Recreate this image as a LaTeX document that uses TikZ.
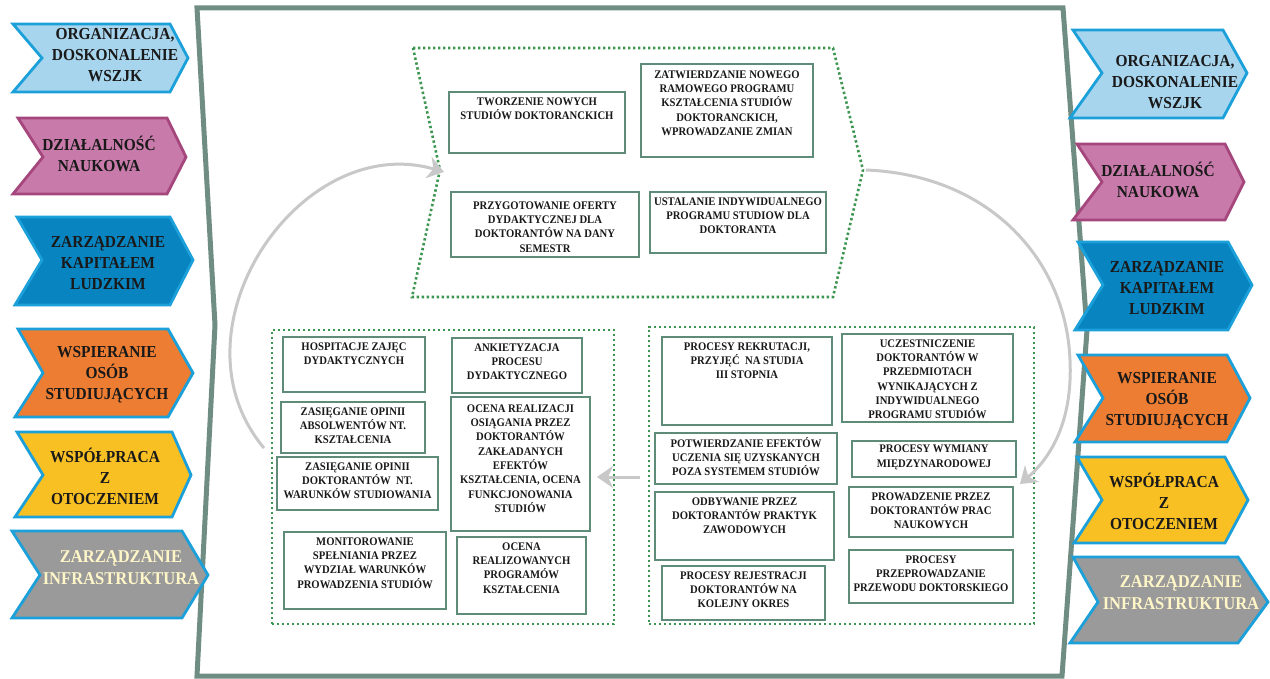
\documentclass[tikz,border=0pt]{standalone}
\usepackage{fontspec}
\setmainfont{Liberation Serif}
\newfontfamily\narrowserif{Liberation Serif}[FakeStretch=0.92]
\usetikzlibrary{arrows.meta}

\definecolor{framegray}{RGB}{112,141,131}
\definecolor{dotgreen}{RGB}{60,150,80}
\definecolor{boxgreen}{RGB}{95,140,120}
\definecolor{arrowgray}{RGB}{200,200,200}
\definecolor{txtdark}{RGB}{25,25,25}
\definecolor{chevline}{RGB}{27,160,218}
\definecolor{pinkline}{RGB}{165,70,125}
\definecolor{lblue}{RGB}{168,213,238}
\definecolor{pink}{RGB}{200,122,170}
\definecolor{dblue}{RGB}{8,132,192}
\definecolor{orng}{RGB}{237,125,50}
\definecolor{yell}{RGB}{249,192,36}
\definecolor{gry}{RGB}{154,154,154}
\definecolor{cream}{RGB}{255,246,200}

\begin{document}
\begin{tikzpicture}[x=1pt,y=-1pt]
	\tikzset{procbox/.style={draw=boxgreen,fill=white,line width=1.2pt,inner sep=0pt}}
	\tikzset{proctext/.style={anchor=north,align=center,inner sep=0pt,yshift=-6pt,text=txtdark,font=\narrowserif\bfseries\fontsize{11.6}{14.3}\selectfont}}
	\tikzset{group/.style={draw=dotgreen,line width=2.6pt,dash pattern=on 2.4pt off 2.6pt,inner sep=0pt}}
	\tikzset{chev/.style={draw=chevline,line width=2.8pt,line join=miter}}
	\tikzset{chevtext/.style={align=center,text=txtdark,font=\narrowserif\bfseries\fontsize{16.8}{21}\selectfont}}
	\tikzset{cyclearrow/.style={draw=arrowgray,line width=3pt,-{Stealth[length=16pt,width=22pt,inset=5pt]}}}

	\useasboundingbox (0,0) rectangle (1270,679);
	\fill[white] (0,0) rectangle (1270,679);

	% outer frame
	\draw[framegray,line width=5pt,line join=miter]
		(197,8) -- (1063,8) -- (1087,330) -- (1062,676) -- (197,676) -- (215,325) -- cycle;

	% left column
	\draw[chev,fill=lblue] (13,24) -- (170,24) -- (188,58) -- (170,92) -- (13,92) -- (42,58) -- cycle;
	\node[chevtext] (orgL) at (115,55) {ORGANIZACJA,\\DOSKONALENIE\\WSZJK};
	\draw[chev,draw=pinkline,fill=pink] (18,118) -- (167,118) -- (186,157) -- (167,194) -- (13,194) -- (43,157) -- cycle;
	\node[chevtext] (naukaL) at (99,154) {DZIAŁALNOŚĆ\\NAUKOWA};
	\draw[chev,fill=dblue] (17,217) -- (170,217) -- (193,260) -- (170,305) -- (15,305) -- (42,260) -- cycle;
	\node[chevtext] (kapitalL) at (108,263) {ZARZĄDZANIE\\KAPITAŁEM\\LUDZKIM};
	\draw[chev,fill=orng] (18,329) -- (168,329) -- (193,373) -- (168,417) -- (15,417) -- (43,373) -- cycle;
	\node[chevtext] (wspierL) at (107,375) {WSPIERANIE\\OSÓB\\STUDIUJĄCYCH};
	\draw[chev,fill=yell] (17,432) -- (172,432) -- (191,475) -- (172,517) -- (15,517) -- (43,475) -- cycle;
	\node[chevtext] (wspolL) at (105,476.5) {WSPÓŁPRACA\\Z\\OTOCZENIEM};
	\draw[chev,fill=gry] (12,531) -- (182,531) -- (208,575) -- (182,618) -- (12,618) -- (40,575) -- cycle;
	\node[chevtext,text=cream,font=\narrowserif\bfseries\fontsize{18}{22}\selectfont] (infraL) at (121,568) {ZARZĄDZANIE\\INFRASTRUKTURA};

	% right column
	\draw[chev,fill=lblue] (1073,30) -- (1223,30) -- (1247,73) -- (1223,118) -- (1070,118) -- (1102,73) -- cycle;
	\node[chevtext] (orgR) at (1175,82) {ORGANIZACJA,\\DOSKONALENIE\\WSZJK};
	\draw[chev,draw=pinkline,fill=pink] (1077,144) -- (1225,144) -- (1244,182) -- (1225,220) -- (1073,220) -- (1102,182) -- cycle;
	\node[chevtext] (naukaR) at (1158,180) {DZIAŁALNOŚĆ\\NAUKOWA};
	\draw[chev,fill=dblue] (1078,242) -- (1228,242) -- (1252,285) -- (1228,330) -- (1075,330) -- (1103,285) -- cycle;
	\node[chevtext] (kapitalR) at (1167,288) {ZARZĄDZANIE\\KAPITAŁEM\\LUDZKIM};
	\draw[chev,fill=orng] (1078,355) -- (1227,355) -- (1250,398) -- (1227,442) -- (1075,442) -- (1103,398) -- cycle;
	\node[chevtext] (wspierR) at (1167,401) {WSPIERANIE\\OSÓB\\STUDIUJĄCYCH};
	\draw[chev,fill=yell] (1077,457) -- (1225,457) -- (1248,500) -- (1225,543) -- (1074,543) -- (1102,500) -- cycle;
	\node[chevtext] (wspolR) at (1164,501.5) {WSPÓŁPRACA\\Z\\OTOCZENIEM};
	\draw[chev,fill=gry] (1073,557) -- (1238,557) -- (1268,602) -- (1238,643) -- (1070,643) -- (1098,602) -- cycle;
	\node[chevtext,text=cream,font=\narrowserif\bfseries\fontsize{18}{22}\selectfont] (infraR) at (1181,593) {ZARZĄDZANIE\\INFRASTRUKTURA};

	% groups
	\draw[group] (413,48) -- (833,48) -- (863,170) -- (833,297) -- (412,297) -- (440,170) -- cycle;
	\coordinate (toptip) at (866,170);
	\coordinate (topnotch) at (444,172);
	\node[group,minimum width=342,minimum height=294] (blgrp) at (443,477) {};
	\node[group,minimum width=385,minimum height=297] (brgrp) at (841.5,475.5) {};

	% top group
	\node[procbox,minimum width=176,minimum height=61,label={[proctext]north:TWORZENIE NOWYCH\\STUDIÓW DOKTORANCKICH}] (tworz) at (537,122.5) {};
	\node[procbox,minimum width=172,minimum height=93,label={[proctext,yshift=-1pt]north:ZATWIERDZANIE NOWEGO\\RAMOWEGO PROGRAMU\\KSZTAŁCENIA STUDIÓW\\DOKTORANCKICH,\\WPROWADZANIE ZMIAN}] (zatw) at (727,110.5) {};
	\node[procbox,minimum width=188,minimum height=65,label={[proctext,yshift=-4pt]north:PRZYGOTOWANIE OFERTY\\DYDAKTYCZNEJ DLA\\DOKTORANTÓW NA DANY\\SEMESTR}] (przyg) at (545,224.5) {};
	\node[procbox,minimum width=176,minimum height=61,label={[proctext]north:USTALANIE INDYWIDUALNEGO\\PROGRAMU STUDIOW DLA\\DOKTORANTA}] (ustal) at (738,222.5) {};

	% bottom left group
	\node[procbox,minimum width=142,minimum height=55,label={[proctext]north:HOSPITACJE ZAJĘC\\DYDAKTYCZNYCH}] (hosp) at (354,364.5) {};
	\node[procbox,minimum width=130,minimum height=55,label={[proctext]north:ANKIETYZACJA\\PROCESU\\DYDAKTYCZNEGO}] (ankiet) at (517,365.5) {};
	\node[procbox,minimum width=144,minimum height=51,label={[proctext]north:ZASIĘGANIE OPINII\\ABSOLWENTÓW NT.\\KSZTAŁCENIA}] (zasabs) at (353,427.5) {};
	\node[procbox,minimum width=161,minimum height=53,label={[proctext]north:ZASIĘGANIE OPINII\\DOKTORANTÓW~ NT.\\WARUNKÓW STUDIOWANIA}] (zasdok) at (357.5,483.5) {};
	\node[procbox,minimum width=139,minimum height=134,label={[proctext,yshift=-2pt]north:OCENA REALIZACJI\\OSIĄGANIA PRZEZ\\DOKTORANTÓW\\ZAKŁADANYCH\\EFEKTÓW\\KSZTAŁCENIA, OCENA\\FUNKCJONOWANIA\\STUDIÓW}] (ocenarz) at (520.5,464) {};
	\node[procbox,minimum width=162,minimum height=77,label={[proctext]north:MONITOROWANIE\\SPEŁNIANIA PRZEZ\\WYDZIAŁ WARUNKÓW\\PROWADZENIA STUDIÓW}] (monit) at (365,570.5) {};
	\node[procbox,minimum width=129,minimum height=77,label={[proctext]north:OCENA\\REALIZOWANYCH\\PROGRAMÓW\\KSZTAŁCENIA}] (ocenaprog) at (521.5,575.5) {};

	% bottom right group
	\node[procbox,minimum width=170,minimum height=88,label={[proctext]north:PROCESY REKRUTACJI,\\PRZYJĘĆ~ NA STUDIA\\III STOPNIA}] (rekrut) at (747,381) {};
	\node[procbox,minimum width=171,minimum height=88,label={[proctext]north:UCZESTNICZENIE\\DOKTORANTÓW W\\PRZEDMIOTACH\\WYNIKAJĄCYCH Z\\INDYWIDUALNEGO\\PROGRAMU STUDIÓW}] (uczest) at (927.5,378) {};
	\node[procbox,minimum width=182,minimum height=51,label={[proctext,yshift=1.5pt]north:POTWIERDZANIE EFEKTÓW\\UCZENIA SIĘ UZYSKANYCH\\POZA SYSTEMEM STUDIÓW}] (potw) at (746,458.5) {};
	\node[procbox,minimum width=164,minimum height=36,label={[proctext,yshift=1.5pt]north:PROCESY WYMIANY\\MIĘDZYNARODOWEJ}] (wymiana) at (934,459) {};
	\node[procbox,minimum width=179,minimum height=68,label={[proctext]north:ODBYWANIE PRZEZ\\DOKTORANTÓW PRAKTYK\\ZAWODOWYCH}] (odbyw) at (744.5,526) {};
	\node[procbox,minimum width=164,minimum height=50,label={[proctext]north:PROWADZENIE PRZEZ\\DOKTORANTÓW PRAC\\NAUKOWYCH}] (prowadz) at (931,512) {};
	\node[procbox,minimum width=163,minimum height=54,label={[proctext]north:PROCESY REJESTRACJI\\DOKTORANTÓW NA\\KOLEJNY OKRES}] (rejestr) at (743.5,593) {};
	\node[procbox,minimum width=164,minimum height=53,label={[proctext]north:PROCESY\\PRZEPROWADZANIE\\PRZEWODU DOKTORSKIEGO}] (przewod) at (931,576.5) {};

	% cycle
	\coordinate (brin) at (1020,484);
	\coordinate (midstart) at (640,477);
	\coordinate (midend) at (597,477);
	\coordinate (blout) at (264,448);
	\draw[cyclearrow] (toptip) .. controls (990,175) and (1066,260) .. (1070,360) .. controls (1073,425) and (1048,460) .. (brin);
	\draw[cyclearrow] (midstart) -- (midend);
	\draw[cyclearrow] (blout) .. controls (165,330) and (300,130) .. (topnotch);

\end{tikzpicture}
\end{document}
